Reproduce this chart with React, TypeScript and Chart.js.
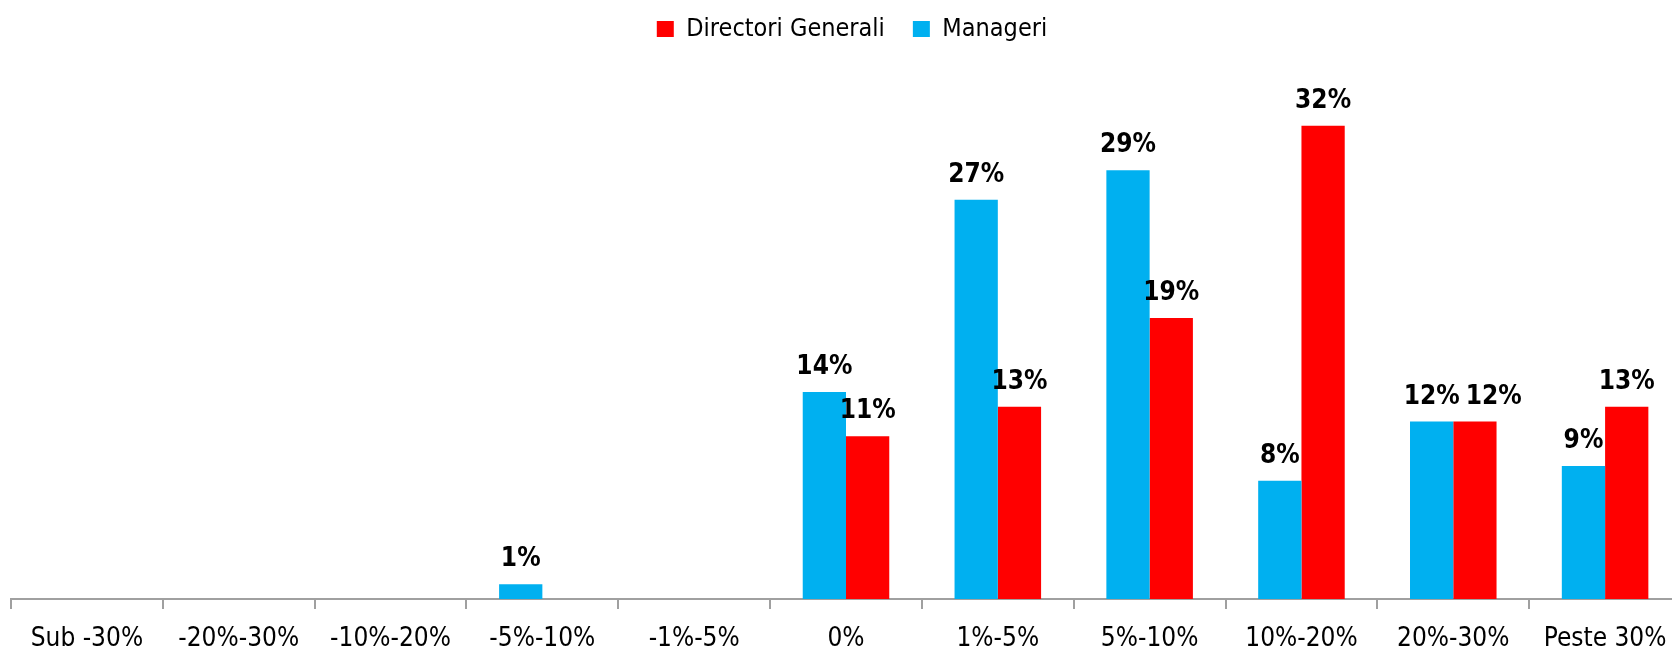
import React, { useEffect, useRef } from "react";
import { Chart, registerables } from "chart.js";

Chart.register(...registerables);

const categories = [
  "Sub -30%",
  "-20%-30%",
  "-10%-20%",
  "-5%-10%",
  "-1%-5%",
  "0%",
  "1%-5%",
  "5%-10%",
  "10%-20%",
  "20%-30%",
  "Peste 30%",
];
const manageri = [0, 0, 0, 1, 0, 14, 27, 29, 8, 12, 9];
const directoriGenerali = [0, 0, 0, 0, 0, 11, 13, 19, 32, 12, 13];

const FONT = "'Liberation Sans Narrow', 'Arial Narrow', 'DejaVu Sans Condensed', sans-serif";
const LABEL_SIZE = 26;

const valueLabels = {
  id: "valueLabels",
  afterDatasetsDraw(chart: any) {
    const ctx = chart.ctx;
    ctx.save();
    ctx.font = `bold ${LABEL_SIZE}px ${FONT}`;
    ctx.fillStyle = "#000";
    ctx.textAlign = "center";
    ctx.textBaseline = "alphabetic";
    const placed: { [k: number]: { x: number; y: number; w: number }[] } = {};
    chart.data.datasets.forEach((ds: any, di: number) => {
      const meta = chart.getDatasetMeta(di);
      meta.data.forEach((el: any, i: number) => {
        const v = ds.data[i];
        if (!(v > 0)) return;
        const text = `${v}%`;
        const w = ctx.measureText(text).width;
        let x = el.x;
        const y = el.y - 18;
        const prev = placed[i] || [];
        prev.forEach((p) => {
          if (Math.abs(p.y - y) < LABEL_SIZE && x - w / 2 < p.x + p.w / 2 + 6) {
            x = p.x + p.w / 2 + 6 + w / 2;
          }
        });
        ctx.fillText(text, x, y);
        prev.push({ x, y, w });
        placed[i] = prev;
      });
    });
    ctx.restore();
  },
};

const legendSpace = {
  id: "legendSpace",
  beforeLayout(chart: any) {
    const lg = chart.legend;
    if (lg && !lg._patched) {
      const orig = lg.fit;
      lg.fit = function () {
        orig.call(this);
        this.height = 93;
      };
      lg._patched = true;
    }
  },
};

export default function App() {
  const ref = useRef<HTMLCanvasElement>(null);
  useEffect(() => {
    if (!ref.current) return;
    const chart = new Chart(ref.current, {
      type: "bar",
      data: {
        labels: categories,
        datasets: [
          {
            label: "Manageri",
            data: manageri,
            backgroundColor: "#00B0F0",
            categoryPercentage: 0.57,
            barPercentage: 1.0,
          },
          {
            label: "Directori Generali",
            data: directoriGenerali,
            backgroundColor: "#FF0000",
            categoryPercentage: 0.57,
            barPercentage: 1.0,
          },
        ],
      },
      options: {
        animation: false,
        responsive: true,
        maintainAspectRatio: false,
        layout: { padding: { left: 11, right: 0, top: -11.5, bottom: 0 } },
        plugins: {
          tooltip: { enabled: false },
          legend: {
            display: true,
            position: "top",
            reverse: true,
            labels: {
              boxWidth: 17,
              boxHeight: 16,
              padding: 28,
              color: "#000",
              font: { family: FONT, size: 25 },
            },
          },
        },
        scales: {
          x: {
            offset: true,
            grid: {
              display: true,
              offset: true,
              drawOnChartArea: false,
              drawTicks: true,
              tickLength: 10,
              color: "#a0a0a0",
              lineWidth: 2,
            },
            border: { display: true, color: "#a0a0a0", width: 2 },
            ticks: {
              color: "#000",
              padding: 17,
              maxRotation: 0,
              autoSkip: false,
              font: { family: FONT, size: 26, lineHeight: 1 },
            },
            afterFit(s: any) {
              s.height = 52;
            },
          },
          y: {
            position: "right",
            min: 0,
            max: 35,
            display: true,
            grid: { display: false },
            border: { display: false },
            ticks: { display: false },
            afterFit(s: any) {
              s.width = 12;
            },
          },
        },
      },
      plugins: [valueLabels, legendSpace],
    });
    return () => chart.destroy();
  }, []);

  return (
    <div
      style={{
        position: "fixed",
        left: 0,
        top: 0,
        width: 1672,
        height: 651,
        overflow: "hidden",
        background: "#fff",
      }}
    >
      <div style={{ position: "relative", width: 1693, height: 651 }}>
        <canvas ref={ref} />
      </div>
    </div>
  );
}
